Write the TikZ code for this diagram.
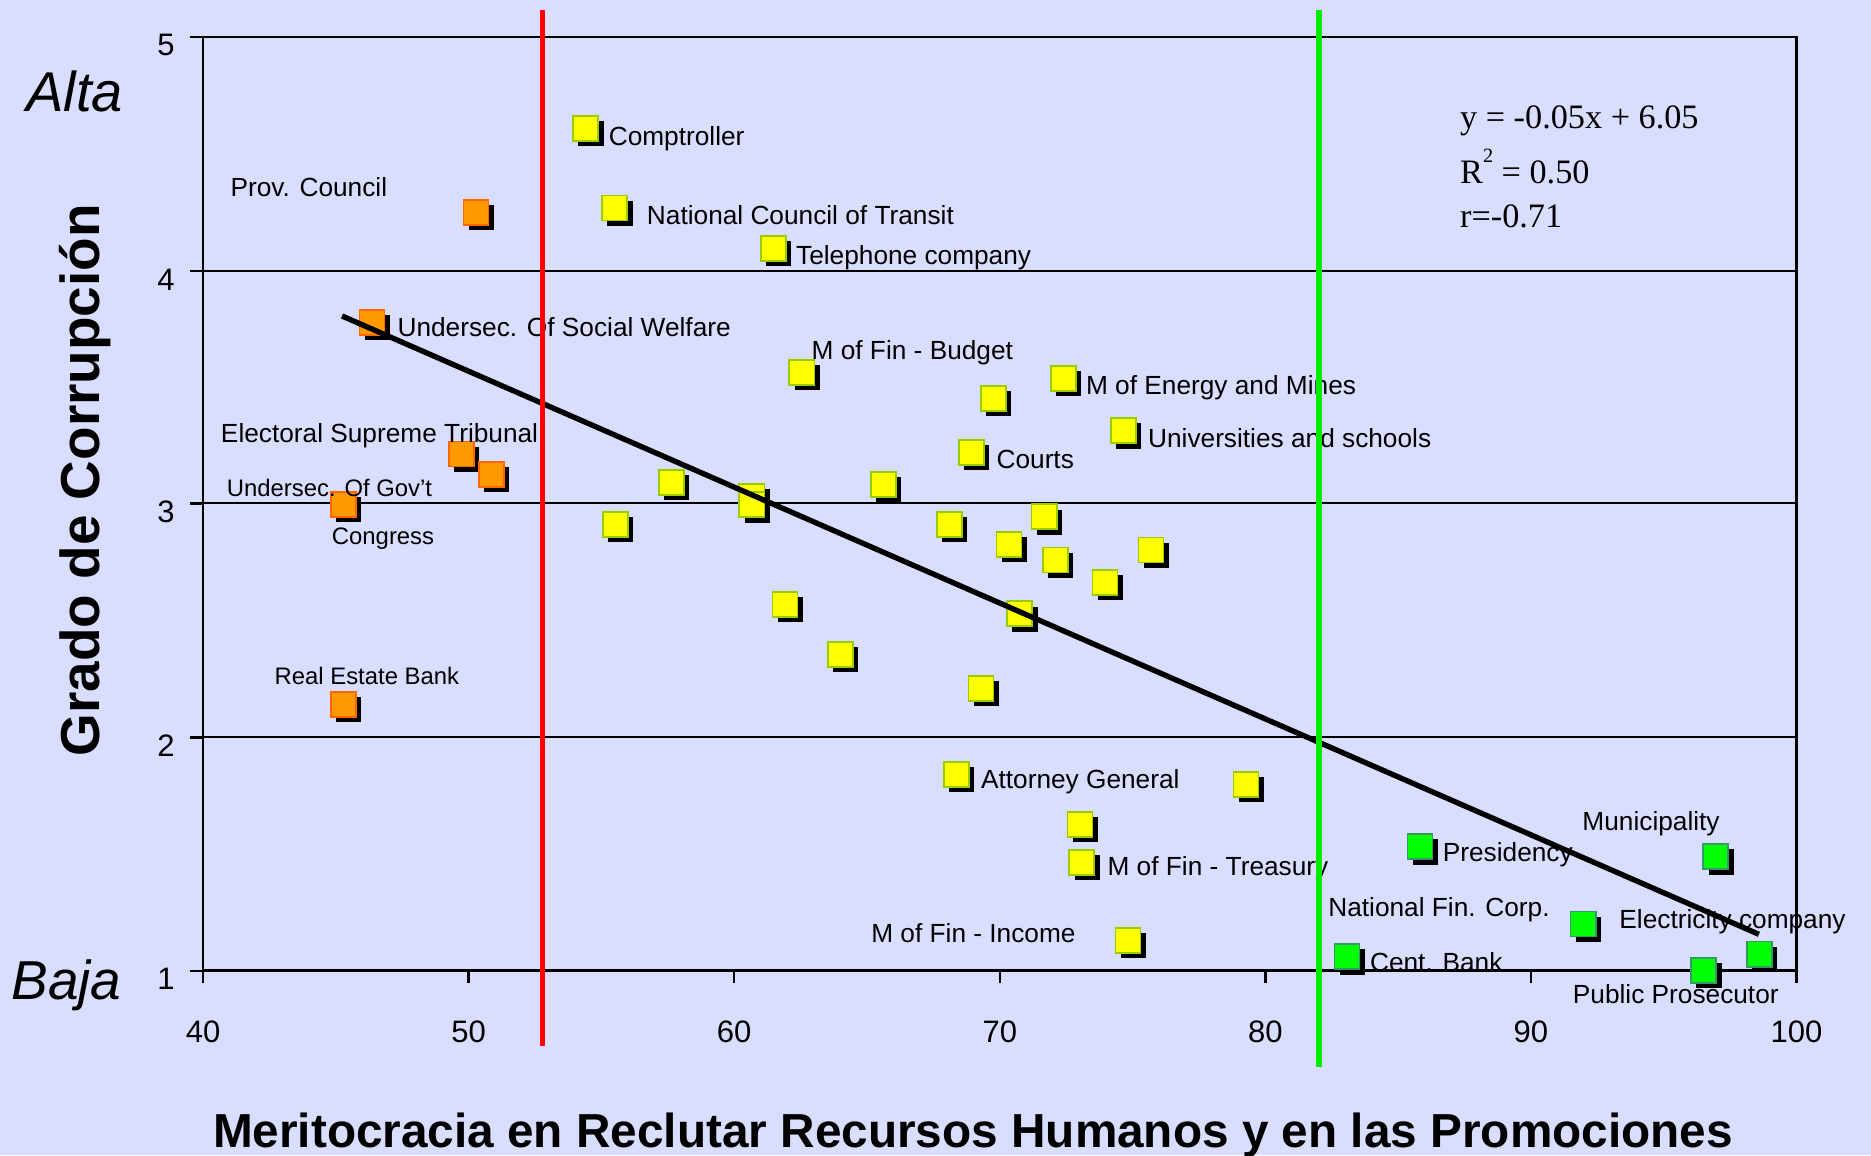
\documentclass[tikz,border=0pt]{standalone}
\usepackage{fontspec}
\setmainfont{Liberation Sans}
\newfontfamily\serifeq{Liberation Serif}
\usetikzlibrary{shadows}
\definecolor{bg}{RGB}{217,222,255}
\definecolor{ybord}{RGB}{153,204,0}
\definecolor{yfill}{RGB}{255,255,0}
\definecolor{obord}{RGB}{255,102,0}
\definecolor{ofill}{RGB}{255,153,0}
\definecolor{gfill}{RGB}{0,255,0}
\definecolor{gbord}{RGB}{51,153,102}
\definecolor{vred}{RGB}{255,0,0}
\definecolor{vgreen}{RGB}{0,235,0}
\begin{document}
\begin{tikzpicture}[x=1pt,y=-1pt,
  mk/.style={rectangle, minimum width=21pt, minimum height=21pt, inner sep=0pt, line width=1.3pt,
    drop shadow={opacity=1, fill=black, shadow xshift=4.5pt, shadow yshift=-4.5pt}},
  ym/.style={mk, fill=yfill, draw=ybord},
  om/.style={mk, fill=ofill, draw=obord},
  gm/.style={mk, fill=gfill, draw=gbord},
  lbl/.style={font=\fontsize{22}{26}\selectfont, inner sep=0pt, anchor=base west},
  lbls/.style={font=\fontsize{20}{24}\selectfont, inner sep=0pt, anchor=base west},
  ticklbl/.style={font=\fontsize{26}{30}\selectfont, inner sep=0pt},
  eqtxt/.style={font=\serifeq\fontsize{28.7}{32}\selectfont, inner sep=0pt, anchor=base west},
  axisline/.style={line width=2pt, black},
  gridline/.style={line width=1.5pt, black},
  fitline/.style={line width=4.5pt, black},
  vline/.style={line width=4.5pt}
]
\useasboundingbox (0,0) rectangle (1568,968);
\fill[bg] (0,0) rectangle (1568,968);

% grid and frame
\foreach \yy in {227.1,421.8,617.9} \draw[gridline] (170.2,\yy) -- (1505.5,\yy);
\draw[axisline] (170.2,30.8) -- (1505.5,30.8) -- (1505.5,822);
\draw[axisline] (170.2,30.8) -- (170.2,823.5);
\draw[line width=2.5pt] (170.2,813.6) -- (1505.5,813.6);
\foreach \yy in {30.8,227.1,421.8,617.9,813.6} \draw[axisline] (159,\yy) -- (170.2,\yy);
\foreach \i in {0,...,6} \draw[axisline] ({170.2+\i*222.55},813.6) -- ++(0,10);

% tick labels
\foreach \v/\yy in {5/30.8,4/227.1,3/421.8,2/617.9,1/813.6}
  \node[ticklbl, anchor=east] (yt\v) at (146.5,\yy+7) {\v};
\foreach \v [count=\i from 0] in {40,50,60,70,80,90,100}
  \node[ticklbl] (xt\v) at ({170.2+\i*222.55},864.6) {\v};

% axis titles
\node[font=\bfseries\fontsize{46}{50}\selectfont, inner sep=0pt, rotate=90, anchor=base] (ytitle) at (83.8,402.5) {Grado de Corrupción};
\node[font=\bfseries\fontsize{40}{44}\selectfont, inner sep=0pt, anchor=base] (xtitle) at (815.4,962) {Meritocracia en Reclutar Recursos Humanos y en las Promociones};
\node[font=\itshape\fontsize{47}{50}\selectfont, inner sep=0pt, anchor=base west] (alta) at (22,93.6) {Alta};
\node[font=\itshape\fontsize{46}{50}\selectfont, inner sep=0pt, anchor=base west] (baja) at (9.5,838) {Baja};

% orange markers
\node[om] (o1) at (398.8,177.9) {};
\node[om] (o2) at (311.7,270.1) {};
\node[om] (o3) at (386.6,380.5) {};
\node[om] (o4) at (411.7,397.5) {};
\node[om] (o5) at (287.8,422.6) {};
\node[om] (o6) at (287.8,590.2) {};

% yellow markers
\node[ym] (y1) at (490.8,107.5) {};
\node[ym] (y2) at (515.1,174.3) {};
\node[ym] (y3) at (648.3,208.1) {};
\node[ym] (y4) at (671.9,312) {};
\node[ym] (y5) at (891.2,317.1) {};
\node[ym] (y6) at (832.4,333.8) {};
\node[ym] (y7) at (941.5,360.9) {};
\node[ym] (y8) at (814,379.1) {};
\node[ym] (y9) at (562.6,404.2) {};
\node[ym] (y10) at (515.8,439.4) {};
\node[ym] (y11) at (630,416) {};
\node[ym] (y12) at (630,423) {};
\node[ym] (y13) at (740.4,405.9) {};
\node[ym] (y14) at (795.8,439.4) {};
\node[ym] (y15) at (875.1,433) {};
\node[ym] (y16) at (845.7,456.2) {};
\node[ym] (y17) at (884.4,469.3) {};
\node[ym] (y18) at (926.1,488) {};
\node[ym] (y19) at (964.7,460.9) {};
\node[ym] (y20) at (658,506.4) {};
\node[ym] (y21) at (854.5,514.3) {};
\node[ym] (y22) at (704.2,548.3) {};
\node[ym] (y23) at (822.2,576.8) {};
\node[ym] (y24) at (801.4,648.9) {};
\node[ym] (y25) at (1044.1,657.3) {};
\node[ym] (y26) at (905,690.8) {};
\node[ym] (y27) at (906.5,722.7) {};
\node[ym] (y28) at (945.3,788) {};

% green markers
\node[gm] (g1) at (1189.9,709.5) {};
\node[gm] (g2) at (1437.8,717.9) {};
\node[gm] (g3) at (1128.8,801.7) {};
\node[gm] (g4) at (1326.8,774.3) {};
\node[gm] (g5) at (1474.6,799.7) {};
\node[gm] (g6) at (1427.7,813.4) {};

% labels
\node[lbl] (lprov) at (193,165) {Prov. Council};
\node[lbl] (lsoc) at (333,282) {Undersec. Of Social Welfare};
\node[lbl] (lelec) at (185,371) {Electoral Supreme Tribunal};
\node[lbls] (lgov) at (190,416) {Undersec. Of Gov't};
\node[lbls] (lcong) at (278,456) {Congress};
\node[lbls] (lreal) at (230,574) {Real Estate Bank};
\node[lbl] (lcomp) at (510,122) {Comptroller};
\node[lbl] (lnct) at (542,188) {National Council of Transit};
\node[lbl] (ltel) at (667,222) {Telephone company};
\node[lbl] (lbud) at (680,301) {M of Fin - Budget};
\node[lbl] (lene) at (910,331) {M of Energy and Mines};
\node[lbl] (luni) at (962,375) {Universities and schools};
\node[lbl] (lcourts) at (835,393) {Courts};
\node[lbl] (latt) at (822,661) {Attorney General};
\node[lbl] (ltre) at (928,734) {M of Fin - Treasury};
\node[lbl] (linc) at (730,790) {M of Fin - Income};
\node[lbl] (lpres) at (1209,722) {Presidency};
\node[lbl] (lmun) at (1326,696) {Municipality};
\node[lbl] (lnfc) at (1113,768) {National Fin. Corp.};
\node[lbl] (lcb) at (1148,814) {Cent. Bank};
\node[lbl] (lelc) at (1357,778) {Electricity company};
\node[lbl] (lpp) at (1318,841) {Public Prosecutor};

% regression box text
\node[eqtxt] (eq1) at (1223.5,107.5) {y = -0.05x + 6.05};
\node[eqtxt] (eq2) at (1223.5,153.6) {R\raisebox{0.62em}{\fontsize{17}{18}\selectfont 2} = 0.50};
\node[eqtxt] (eq3) at (1223.5,190.8) {r=-0.71};

% lines on top
\coordinate (fitA) at (286.6,264.8);
\coordinate (fitB) at (1474,783);
\draw[fitline] (fitA) -- (fitB);
\coordinate (redT) at (454.9,8.4);
\coordinate (redB) at (454.9,877);
\draw[vline, vred] (redT) -- (redB);
\coordinate (grnT) at (1105.3,8.4);
\coordinate (grnB) at (1105.3,894);
\draw[vline, vgreen] (grnT) -- (grnB);
\end{tikzpicture}
\end{document}
